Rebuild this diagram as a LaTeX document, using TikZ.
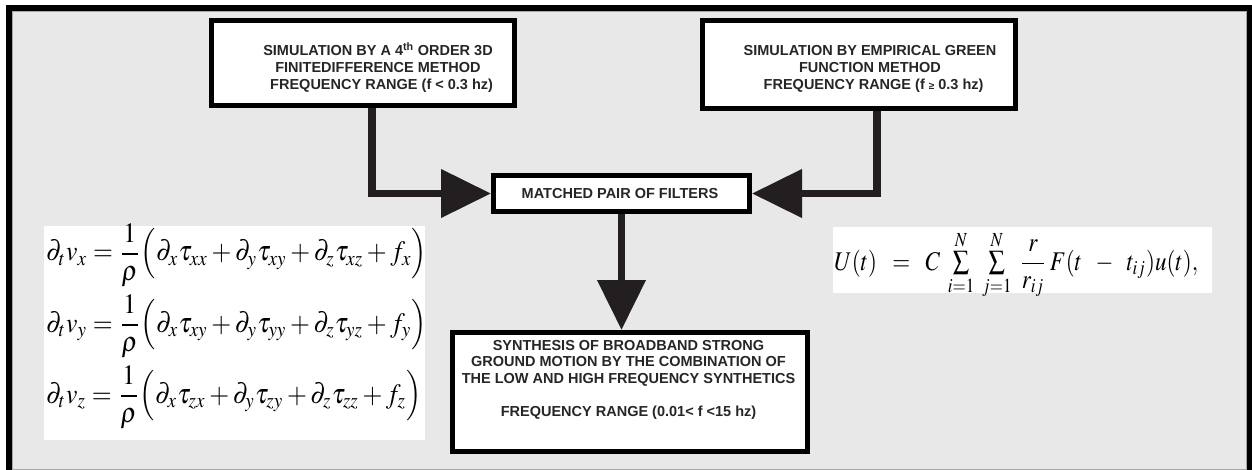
\documentclass[tikz,border=0pt]{standalone}
\usepackage{mathptmx}
\usepackage[no-math]{fontspec}
\setmainfont{Liberation Sans}
\usetikzlibrary{arrows.meta}
\definecolor{panel}{HTML}{E8E8E8}
\definecolor{ink}{HTML}{231F20}
\definecolor{txt}{HTML}{262626}
\tikzset{
  box/.style={draw=black, line width=5pt, fill=white, inner sep=0pt},
  label/.style={text=txt, align=center, inner sep=0pt,
    font=\fontsize{14.5}{16.6}\selectfont\bfseries},
  conn/.style={draw=ink, line width=7.5pt,
    -{Triangle[length=50pt,width=47pt]}},
  eqn/.style={inner sep=0pt, text=black}
}
\begin{document}
\begin{tikzpicture}[x=1pt,y=-1pt]
\useasboundingbox (0,0) rectangle (1252,470);
% frame
\fill[white] (0,0) rectangle (1252,470);
\fill[black] (6,5) rectangle (1252,470);
\fill[panel] (12,11) rectangle (1247,470);
\draw[gray!70, line width=1pt] (12.5,470) -- (12.5,11.5) -- (1246.5,11.5) -- (1246.5,470);
\draw[gray!70, line width=1pt] (12,469.5) -- (1247,469.5);

% process boxes
\node[box, minimum width=303, minimum height=85] (fd) at (363,63) {};
\node[label] (fdt) at (378,67.5) {SIMULATION BY A 4\textsuperscript{th} ORDER 3D\\
  FINITEDIFFERENCE METHOD\\ \hspace*{0.5em}FREQUENCY RANGE (f < 0.3 hz)};

\node[box, minimum width=313, minimum height=88] (eg) at (859,64.5) {};
\node[label] (egt) at (870,69) {SIMULATION BY EMPIRICAL GREEN\\
  FUNCTION METHOD\\ \hspace*{0.5em}FREQUENCY RANGE (f {\fontsize{10}{10}\selectfont ≥} 0.3 hz)};

\node[box, minimum width=256, minimum height=36] (mp) at (621.5,193.5) {};
\node[label] (mpt) at (620,194) {MATCHED PAIR OF FILTERS};

\node[box, minimum width=355, minimum height=119] (syn) at (630,392) {};
\node[label] (synt) at (628.5,380) {SYNTHESIS OF BROADBAND STRONG\\
  GROUND MOTION BY THE COMBINATION OF\\
  THE LOW AND HIGH FREQUENCY SYNTHETICS\\[16.6pt]
  FREQUENCY RANGE (0.01< f <15 hz)};

% connectors
\draw[conn] ([xshift=9]fd.south) |- (mp.west);
\draw[conn] ([xshift=18]eg.south) |- (mp.east);
\draw[conn] (mp.south) -- (mp.south |- syn.north);

% velocity equations
\node[fill=white, inner sep=0pt, minimum width=381, minimum height=214] (eqbox) at (234.5,333) {};
\node[eqn, anchor=west] (eq1) at (46,255) {\scalebox{2.56}[2.8]{$\displaystyle
  \partial_t v_x = \frac{1}{\rho}\Bigl(\partial_x\tau_{xx} + \partial_y\tau_{xy} + \partial_z\tau_{xz} + f_x\Bigr)$}};
\node[eqn, anchor=west] (eq2) at (46,326) {\scalebox{2.56}[2.8]{$\displaystyle
  \partial_t v_y = \frac{1}{\rho}\Bigl(\partial_x\tau_{xy} + \partial_y\tau_{yy} + \partial_z\tau_{yz} + f_y\Bigr)$}};
\node[eqn, anchor=west] (eq3) at (46,397) {\scalebox{2.56}[2.8]{$\displaystyle
  \partial_t v_z = \frac{1}{\rho}\Bigl(\partial_x\tau_{zx} + \partial_y\tau_{zy} + \partial_z\tau_{zz} + f_z\Bigr)$}};

% summation formula
\node[fill=white, inner sep=0pt, minimum width=379, minimum height=66] (sumbox) at (1022.5,260) {};
\node[eqn, anchor=base west] (sum) at (834,270) {\scalebox{2.3}[2.7]{$
  U(t)\;\;=\;\;C\;\sum\limits_{i=1}^{N}\;\sum\limits_{j=1}^{N}\;\displaystyle\frac{r}{r_{ij}}\,F(t\;\;-\;\;t_{ij})u(t),$}};
\end{tikzpicture}
\end{document}
